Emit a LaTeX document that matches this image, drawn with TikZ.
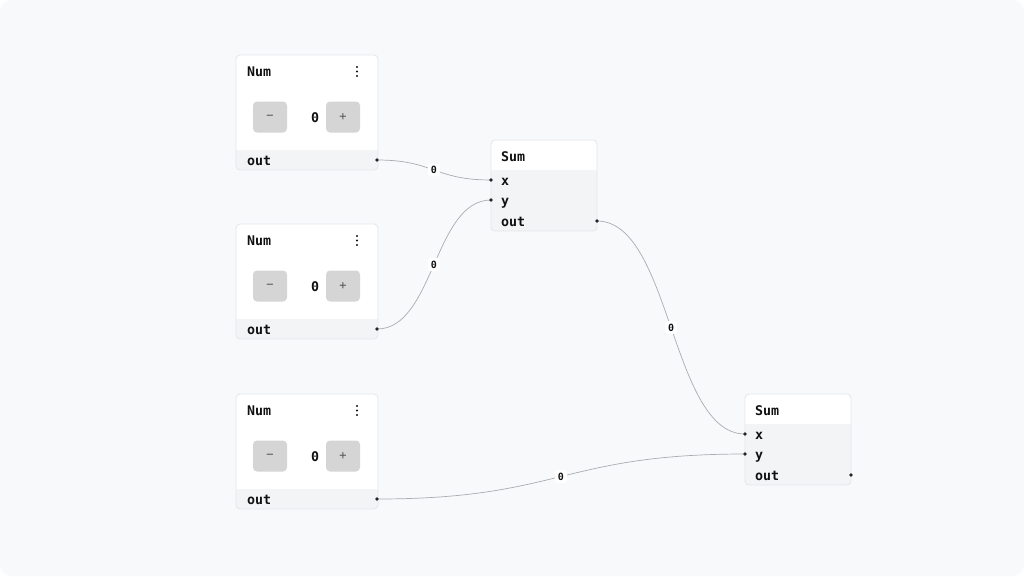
\documentclass[tikz,border=0pt]{standalone}
\usepackage{fontspec}
\setmonofont{DejaVu Sans Mono}
\definecolor{bgc}{HTML}{F8F9FB}
\definecolor{boxline}{HTML}{E3E6EA}
\definecolor{bandc}{HTML}{F3F4F6}
\definecolor{btnc}{HTML}{D5D5D5}
\definecolor{btntext}{HTML}{555555}
\definecolor{edgec}{HTML}{ABABB2}
\definecolor{txt}{HTML}{111111}
\pgfdeclarelayer{bglayer}
\pgfdeclarelayer{edgelayer}
\pgfsetlayers{bglayer,edgelayer,main}
\tikzset{
  boxborder/.style={draw=boxline, line width=0.8pt, rounded corners=4pt},
  title/.style={font=\ttfamily\bfseries\fontsize{13.3}{15}\selectfont, text=txt, inner sep=0pt, anchor=west,
     text height=10pt, text depth=0pt},
  lab/.style={font=\ttfamily\bfseries\fontsize{13.3}{15}\selectfont, text=txt, inner sep=0pt, anchor=west,
     text height=10pt, text depth=0pt},
  btn/.style={fill=btnc, rounded corners=4pt, minimum width=34pt, minimum height=31pt, inner sep=0pt,
     font=\ttfamily\fontsize{12}{13}\selectfont, text=btntext},
  val/.style={font=\ttfamily\bfseries\fontsize{13.3}{15}\selectfont, text=txt, inner sep=0pt},
  edge/.style={draw=edgec, line width=0.7pt},
  elab/.style={fill=white, rounded corners=2pt, inner xsep=3pt, inner ysep=2.5pt,
     font=\ttfamily\bfseries\fontsize{10}{11}\selectfont, text=txt},
  portdot/.style={fill=black!85, circle, inner sep=0pt, minimum size=3.6pt},
}
\newcommand\numnode[2]{%
  \begin{scope}[shift={(236,#2)}]
    \fill[white, rounded corners=4pt] (0,0) rectangle (142,115);
    \begin{scope}
      \clip[rounded corners=4pt] (0,0) rectangle (142,115);
      \fill[bandc] (0,95) rectangle (142,115);
    \end{scope}
    \draw[boxborder] (0,0) rectangle (142,115);
    \node[title] (#1t) at (11,16) {Num};
    \fill[txt] (121,12) circle (1.1) (121,16.5) circle (1.1) (121,21) circle (1.1);
    \node[btn] (#1minus) at (34,62) {−};
    \node[val] (#1v) at (79,62.5) {0};
    \node[btn] (#1plus) at (107,62) {+};
    \node[lab] (#1l) at (11,105) {out};
    \node[portdot] (#1o) at (141,105) {};
  \end{scope}}
\newcommand\sumnode[3]{%
  \begin{scope}[shift={(#2,#3)}]
    \fill[white, rounded corners=4pt] (0,0) rectangle (106,91);
    \begin{scope}
      \clip[rounded corners=4pt] (0,0) rectangle (106,91);
      \fill[bandc] (0,30) rectangle (106,91);
    \end{scope}
    \draw[boxborder] (0,0) rectangle (106,91);
    \node[title] (#1t) at (10,16) {Sum};
    \node[lab] (#1lx) at (10,40) {x};
    \node[lab] (#1ly) at (10,60) {y};
    \node[lab] (#1lo) at (10,81) {out};
    \node[portdot] (#1x) at (0,40) {};
    \node[portdot] (#1y) at (0,60) {};
    \node[portdot] (#1o) at (106,81) {};
  \end{scope}}
\begin{document}
\begin{tikzpicture}[x=1pt,y=-1pt]
\useasboundingbox (0,0) rectangle (1024,576);
\begin{pgfonlayer}{bglayer}
\fill[white] (0,0) rectangle (1024,576);
\fill[bgc, rounded corners=12pt] (0,0) rectangle (1024,576);
\end{pgfonlayer}
\numnode{na}{55}
\numnode{nb}{224}
\numnode{nc}{394}
\sumnode{sa}{491}{140}
\sumnode{sb}{745}{394}
\begin{pgfonlayer}{edgelayer}
\draw[edge] (nao.center) .. controls +(57,0) and +(-57,0) .. (sax.center) node[elab, pos=0.5] (e1) {0};
\draw[edge] (nbo.center) .. controls +(57,0) and +(-57,0) .. (say.center) node[elab, pos=0.5] (e2) {0};
\draw[edge] (sao.center) .. controls +(74,0) and +(-74,0) .. (sbx.center) node[elab, pos=0.5] (e3) {0};
\draw[edge] (nco.center) .. controls +(184,0) and +(-184,0) .. (sby.center) node[elab, pos=0.5] (e4) {0};
\end{pgfonlayer}
\end{tikzpicture}
\end{document}
